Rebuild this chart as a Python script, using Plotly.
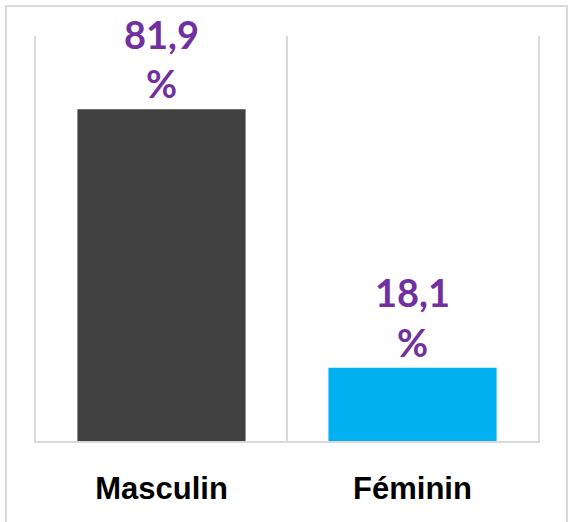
import plotly.graph_objects as go

# Données
categories = ["Masculin", "Féminin"]
values = [81.9, 18.1]
labels = ["81,9<br>%", "18,1<br>%"]
colors = ["#404040", "#00B0F0"]

W, H = 569, 522
M_L, M_R, M_T, M_B = 36, 31, 36, 81
PW = W - M_L - M_R
PH = H - M_T - M_B
GRIS = "#D9D9D9"

fig = go.Figure()

fig.add_trace(
    go.Bar(
        x=categories,
        y=values,
        marker_color=colors,
        marker_line_width=0,
        text=labels,
        textposition="outside",
        textfont=dict(family="Lato, 'Noto Sans', sans-serif", size=38, color="#7030A0", weight="bold"),
        cliponaxis=False,
        hoverinfo="skip",
    )
)

# cadre extérieur
fig.add_shape(
    type="rect",
    xref="paper",
    yref="paper",
    x0=(6 - M_L) / PW,
    x1=(567 - M_L) / PW,
    y0=(M_T + PH - 540) / PH,
    y1=(M_T + PH - 6) / PH,
    line=dict(color=GRIS, width=2),
    layer="below",
)

fig.update_layout(
    width=W,
    height=H,
    margin=dict(l=M_L, r=M_R, t=M_T, b=M_B, autoexpand=False),
    paper_bgcolor="white",
    plot_bgcolor="white",
    showlegend=False,
    bargap=0.33,
    xaxis=dict(
        type="category",
        range=[-0.5, 1.5],
        tickson="boundaries",
        automargin=False,
        showgrid=True,
        gridcolor=GRIS,
        gridwidth=2,
        showline=True,
        linecolor=GRIS,
        linewidth=2,
        ticks="",
        ticklabelstandoff=19,
        tickfont=dict(family="'Liberation Sans Narrow', 'Liberation Sans', Arial", size=31, color="black", weight="bold"),
    ),
    yaxis=dict(
        range=[0, 100],
        automargin=False,
        showgrid=False,
        showticklabels=False,
        zeroline=False,
        showline=True,
        mirror=True,
        linecolor=GRIS,
        linewidth=2,
    ),
)

fig.write_html(
    "out.html",
    config={"displayModeBar": False},
    post_script="document.body.style.margin='0';",
)
